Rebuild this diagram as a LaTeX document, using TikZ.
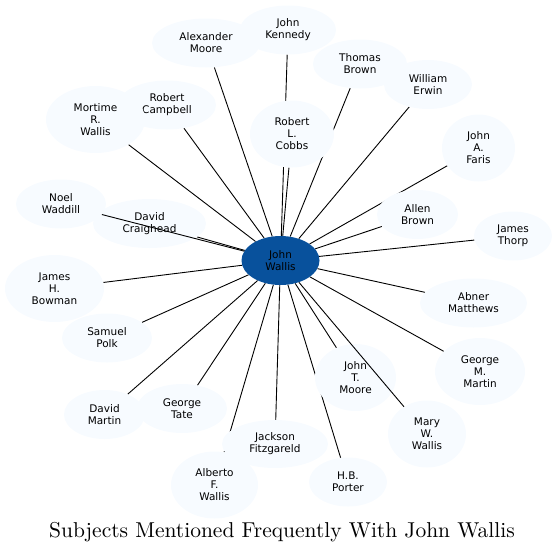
\documentclass[tikz,border=0pt]{standalone}
\usepackage{fontspec}
\usepackage{tikz}
\usetikzlibrary{shapes.geometric,backgrounds}
\newfontfamily\labelfont{DejaVu Sans}
\newfontfamily\titlefont{Latin Modern Roman}[OpticalSize=10]
\definecolor{paleblue}{RGB}{247,251,255}
\definecolor{deepblue}{RGB}{8,81,156}

\begin{document}
\begin{tikzpicture}[x=1pt,y=-1pt,
  person/.style={ellipse,draw=none,fill=paleblue,inner sep=0pt,align=center,font=\labelfont\fontsize{10.5}{12}\selectfont},
  short/.style={person,minimum height=49pt},
  tall/.style={person,minimum height=67pt},
  link/.style={line width=0.9pt}
]
\useasboundingbox (0,0) rectangle (557,555);
\node[person,fill=deepblue,minimum width=78pt,minimum height=49pt] (jw) at (280.5,260.5) {John\\Wallis};
\node[short,minimum width=108pt] (am) at (206,43) {Alexander\\Moore};
\node[short,minimum width=96pt] (jk) at (288,30) {John\\Kennedy};
\node[short,minimum width=98pt] (rc) at (167,105) {Robert\\Campbell};
\node[tall,minimum width=99pt] (mrw) at (95.5,119.5) {Mortime\\R.\\Wallis};
\node[tall,minimum width=84pt] (rlc) at (292,134) {Robert\\L.\\Cobbs};
\node[short,minimum width=94pt] (tb) at (360,64) {Thomas\\Brown};
\node[short,minimum width=88pt] (we) at (428,84.5) {William\\Erwin};
\node[tall,minimum width=73pt] (jaf) at (478.5,148) {John\\A.\\Faris};
\node[short,minimum width=81pt] (ab) at (417.5,214.5) {Allen\\Brown};
\node[short,minimum width=78pt] (jt) at (513,236) {James\\Thorp};
\node[short,minimum width=90pt] (nw) at (61,204) {Noel\\Waddill};
\node[short,minimum width=113pt] (dc) at (149.5,223.5) {David\\Craighead};
\node[tall,minimum width=99pt] (jhb) at (54.5,288.5) {James\\H.\\Bowman};
\node[short,minimum width=107pt] (abm) at (473.5,303) {Abner\\Matthews};
\node[short,minimum width=90pt] (sp) at (107,338) {Samuel\\Polk};
\node[tall,minimum width=90pt] (gmm) at (480,371.5) {George\\M.\\Martin};
\node[tall,minimum width=81pt] (jtm) at (355.5,377.5) {John\\T.\\Moore};
\node[short,minimum width=81pt] (dm) at (104.5,414.5) {David\\Martin};
\node[short,minimum width=90pt] (gt) at (182,408.5) {George\\Tate};
\node[tall,minimum width=78pt] (mww) at (427,434) {Mary\\W.\\Wallis};
\node[short,minimum width=106pt,minimum height=48pt] (jf) at (275,444) {Jackson\\Fitzgareld};
\node[tall,minimum width=87pt] (afw) at (214.5,485) {Alberto\\F.\\Wallis};
\node[short,minimum width=78pt] (hbp) at (348,482) {H.B.\\Porter};
\begin{scope}[on background layer]
\foreach \other in {am,jk,rc,mrw,rlc,tb,we,jaf,ab,jt,dc,jhb,abm,sp,gmm,jtm,dm,gt,jf,afw,hbp}
  \draw[link] (jw) -- (\other);
\end{scope}
\draw[link] (jw) -- (nw);
\draw[link] (jw) -- (mww);
\node (title) at (282,532) {\titlefont\fontsize{21.5}{24}\selectfont Subjects Mentioned Frequently With John Wallis};
\end{tikzpicture}
\end{document}
